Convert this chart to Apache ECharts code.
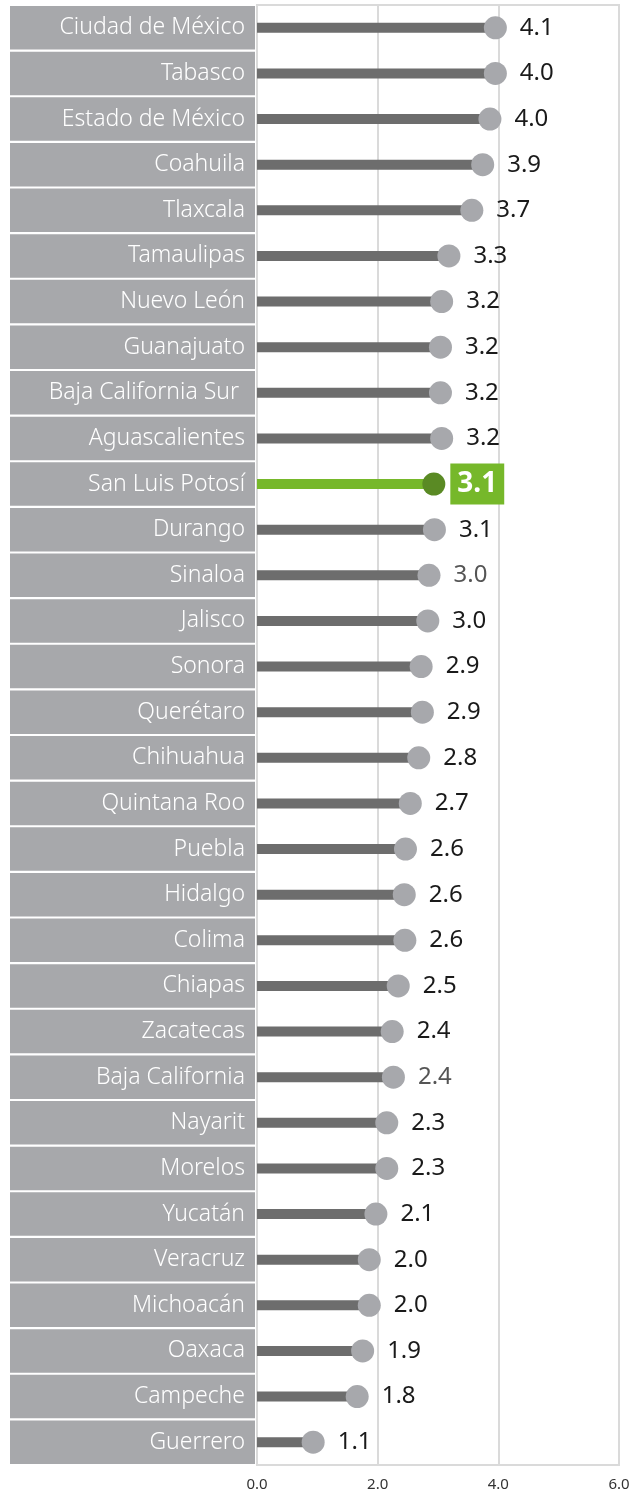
<!DOCTYPE html>
<html>
<head>
<meta charset="utf-8">
<script src="https://cdn.jsdelivr.net/npm/echarts@6/dist/echarts.min.js"></script>
<style>
  html, body { margin: 0; padding: 0; background: #fff; }
  #chart { width: 637px; height: 1493px; }
</style>
</head>
<body>
<div id="chart"></div>
<script>
// estados, de arriba hacia abajo
const states = [
  'Ciudad de México', 'Tabasco', 'Estado de México', 'Coahuila', 'Tlaxcala',
  'Tamaulipas', 'Nuevo León', 'Guanajuato', 'Baja California Sur ', 'Aguascalientes',
  'San Luis Potosí', 'Durango', 'Sinaloa', 'Jalisco', 'Sonora',
  'Querétaro', 'Chihuahua', 'Quintana Roo', 'Puebla', 'Hidalgo',
  'Colima', 'Chiapas', 'Zacatecas', 'Baja California', 'Nayarit',
  'Morelos', 'Yucatán', 'Veracruz', 'Michoacán', 'Oaxaca',
  'Campeche', 'Guerrero'
];
// valores estimados por la posición de los puntos
const values = [
  4.10, 4.10, 4.01, 3.89, 3.71,
  3.33, 3.21, 3.19, 3.19, 3.21,
  3.08, 3.09, 3.00, 2.98, 2.87,
  2.89, 2.83, 2.69, 2.61, 2.59,
  2.60, 2.49, 2.39, 2.41, 2.30,
  2.30, 2.12, 2.01, 2.01, 1.90,
  1.81, 1.08
];
// etiquetas tal como aparecen
const valueLabels = [
  '4.1', '4.0', '4.0', '3.9', '3.7',
  '3.3', '3.2', '3.2', '3.2', '3.2',
  '3.1', '3.1', '3.0', '3.0', '2.9',
  '2.9', '2.8', '2.7', '2.6', '2.6',
  '2.6', '2.5', '2.4', '2.4', '2.3',
  '2.3', '2.1', '2.0', '2.0', '1.9',
  '1.8', '1.1'
];
const xTicks = [0, 2, 4, 6];
const highlight = 'San Luis Potosí';
const greyLabels = ['Sinaloa', 'Baja California'];

const FONT = 'Noto Sans';

const chart = echarts.init(document.getElementById('chart'));

const barData = values.map((v, i) => {
  if (states[i] === highlight) {
    return { value: v, itemStyle: { color: '#76b82a' } };
  }
  return v;
});

const dotData = values.map((v, i) => {
  const item = { value: v };
  if (states[i] === highlight) {
    item.itemStyle = { color: '#5a8a24' };
    item.label = {
      distance: 5,
      color: '#fff',
      fontWeight: 'bold',
      fontSize: 28,
      lineHeight: 33,
      backgroundColor: '#76b82a',
      padding: [4, 7, 4, 7]
    };
  } else if (greyLabels.includes(states[i])) {
    item.label = { color: '#555' };
  }
  return item;
});

const option = {
  animation: false,
  grid: {
    left: 257,
    right: 18,
    top: 5,
    bottom: 28,
    show: true,
    borderColor: '#dadada',
    borderWidth: 2
  },
  xAxis: {
    type: 'value',
    min: xTicks[0],
    max: xTicks[xTicks.length - 1],
    interval: 2,
    axisLine: { show: false },
    axisTick: { show: false },
    splitLine: { lineStyle: { color: '#dadada', width: 2 } },
    axisLabel: {
      margin: 12,
      fontFamily: FONT,
      fontSize: 15,
      color: '#333',
      formatter: (v) => v.toFixed(1)
    }
  },
  yAxis: {
    type: 'category',
    inverse: true,
    data: states,
    axisLine: { show: false },
    axisTick: { show: false },
    axisLabel: {
      margin: 2,
      fontFamily: FONT,
      fontSize: 23,
      fontWeight: 300,
      color: '#fff',
      align: 'right',
      verticalAlign: 'middle',
      backgroundColor: '#a7a8ab',
      width: 235,
      height: 43.6,
      lineHeight: 43.6,
      padding: [0, 10, 0, 0],
      overflow: 'none'
    }
  },
  series: [
    {
      type: 'bar',
      data: barData,
      barWidth: 10,
      itemStyle: { color: '#6d6d6d' },
      z: 2
    },
    {
      type: 'scatter',
      data: dotData,
      symbol: 'circle',
      symbolSize: 23,
      symbolOffset: [-9, 0],
      itemStyle: { color: '#a7a8ac', opacity: 1 },
      label: {
        show: true,
        position: 'right',
        distance: 13,
        fontFamily: FONT,
        fontSize: 24,
        color: '#1a1a1a',
        formatter: (p) => valueLabels[p.dataIndex]
      },
      z: 3
    }
  ]
};

chart.setOption(option);
</script>
</body>
</html>
